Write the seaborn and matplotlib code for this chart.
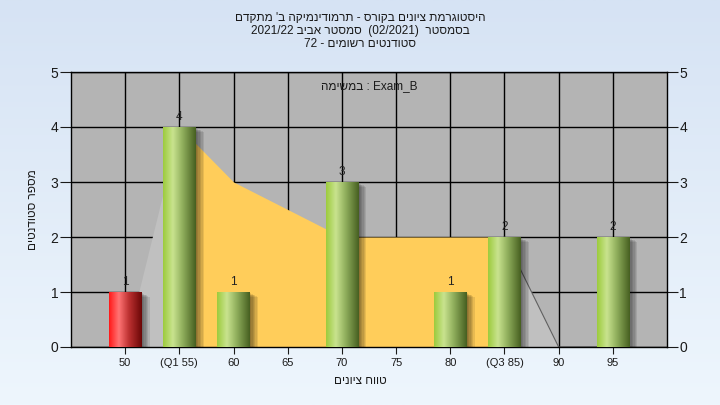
import numpy as np
import pandas as pd
import matplotlib
matplotlib.use('Agg')
import matplotlib.pyplot as plt
import seaborn as sns
from matplotlib import patheffects as pe
from matplotlib.colors import LinearSegmentedColormap

# data
categories = ['50', '(Q1 55)', '60', '65', '70', '75', '80', '(Q3 85)', '90', '95']
counts = [1, 4, 1, 0, 3, 0, 1, 2, 0, 2]
curve = [0, 4, 3, 2.5, 2, 2, 2, 2, 0, 0]
q1_idx, q3_idx = 1, 7
fail_cats = ['50']

title_lines = [
    "היסטוגרמת ציונים בקורס - תרמודינמיקה ב' מתקדם",
    "בסמסטר  (02/2021)  סמסטר אביב 2021/22",
    "סטודנטים רשומים - 72",
]
exam_text = "Exam_B : במשימה"
x_label = "טווח ציונים"
y_label = "מספר סטודנטים"


def vis(s):
    # matplotlib has no bidi: put RTL words into visual order
    out = []
    for w in reversed(s.split(' ')):
        if any('\u0590' <= c <= '\u05ff' for c in w):
            w = w[::-1]
        out.append(w)
    return ' '.join(out)


plt.rcParams['font.family'] = ['Liberation Sans', 'DejaVu Sans']

fig = plt.figure(figsize=(7.2, 4.05), dpi=100)

# background gradient
bg = fig.add_axes([0, 0, 1, 1], zorder=-10)
bg_cmap = LinearSegmentedColormap.from_list('bg', ['#D6E3F4', '#EEF6FD'])
bg.imshow(np.linspace(0, 1, 256).reshape(-1, 1), cmap=bg_cmap, aspect='auto',
          extent=[0, 1, 0, 1])
bg.axis('off')

ax = fig.add_axes([71 / 720, 1 - 347 / 405, (667 - 71) / 720, (347 - 72) / 405])
ax.set_facecolor('#B4B4B4')

# background curve: yellow between the quartiles, grey outside
x = np.arange(len(categories))
ax.fill_between(x[q1_idx:q3_idx + 1], curve[q1_idx:q3_idx + 1], color='#FFCD5A', lw=0, zorder=1)
ax.fill_between(x[:q1_idx + 1], curve[:q1_idx + 1], color='#C0C0C0', lw=0, zorder=1)
ax.fill_between(x[q3_idx:], curve[q3_idx:], color='#C0C0C0', lw=0, zorder=1)
ax.plot(x[q3_idx:], curve[q3_idx:], color='#606060', lw=0.8, zorder=1.5)

df = pd.DataFrame({'cat': categories, 'count': counts})
sns.barplot(data=df, x='cat', y='count', order=categories, color='#9CCB3C',
            width=0.6, ax=ax, zorder=3, linewidth=0)

# seaborn turns the categorical grid off, put it back behind everything
ax.set_axisbelow(True)
ax.grid(True, axis='both', color='black', linewidth=1)

green = LinearSegmentedColormap.from_list('g', [(0, '#9CCB3C'), (0.3, '#C9E38F'),
                                               (0.6, '#8FAE5C'), (1, '#465F20')])
red = LinearSegmentedColormap.from_list('r', [(0, '#FF1818'), (0.3, '#FF7474'),
                                             (0.6, '#BE3232'), (1, '#6A0606')])
grad = np.linspace(0, 1, 256).reshape(1, -1)
shadow = [pe.SimplePatchShadow(offset=(k, -0.6 * k), shadow_rgbFace='k', alpha=0.09)
          for k in range(1, 7)]
for p in list(ax.patches):
    h = p.get_height()
    if h <= 0:
        continue
    idx = int(round(p.get_x() + p.get_width() / 2))
    cm = red if categories[idx] in fail_cats else green
    p.set_path_effects(shadow + [pe.Normal()])
    im = ax.imshow(grad, cmap=cm, aspect='auto', interpolation='bilinear',
                   extent=[p.get_x(), p.get_x() + p.get_width(), 0, h], zorder=4)
    im.set_clip_path(p)
    ax.text(idx, h + 0.07, str(counts[idx]), ha='center', va='bottom',
            fontsize=8.5, color='#222222', zorder=5)

ax.set_xlim(-1, 10)
ax.set_ylim(0, 5)
ax.set_yticks(range(6))
ax.set_xlabel('')
ax.set_ylabel('')
ax.tick_params(axis='x', length=5, labelsize=8, pad=3, colors='#1a1a1a')
ax.tick_params(axis='y', left=True, right=True, labelleft=True, labelright=True,
               length=8, labelsize=10, pad=1, colors='#1a1a1a')
for s in ax.spines.values():
    s.set_color('black')
    s.set_linewidth(1)

ax.text(0.5, 0.95, vis(exam_text), transform=ax.transAxes, ha='center', va='center',
        fontsize=8.5, color='#1a1a1a', zorder=6)

for i, line in enumerate(title_lines):
    fig.text(0.5, 1 - (18 + 13 * i) / 405, vis(line), ha='center', va='center',
             fontsize=8.5, color='#1a1a1a')
fig.text(0.5, 1 - 381 / 405, vis(x_label), ha='center', va='center', fontsize=8.5,
         color='#1a1a1a')
fig.text(33 / 720, 1 - 210 / 405, vis(y_label), ha='center', va='center', rotation=90,
         fontsize=8.5, color='#1a1a1a')

fig.savefig('out.png', dpi=100)
